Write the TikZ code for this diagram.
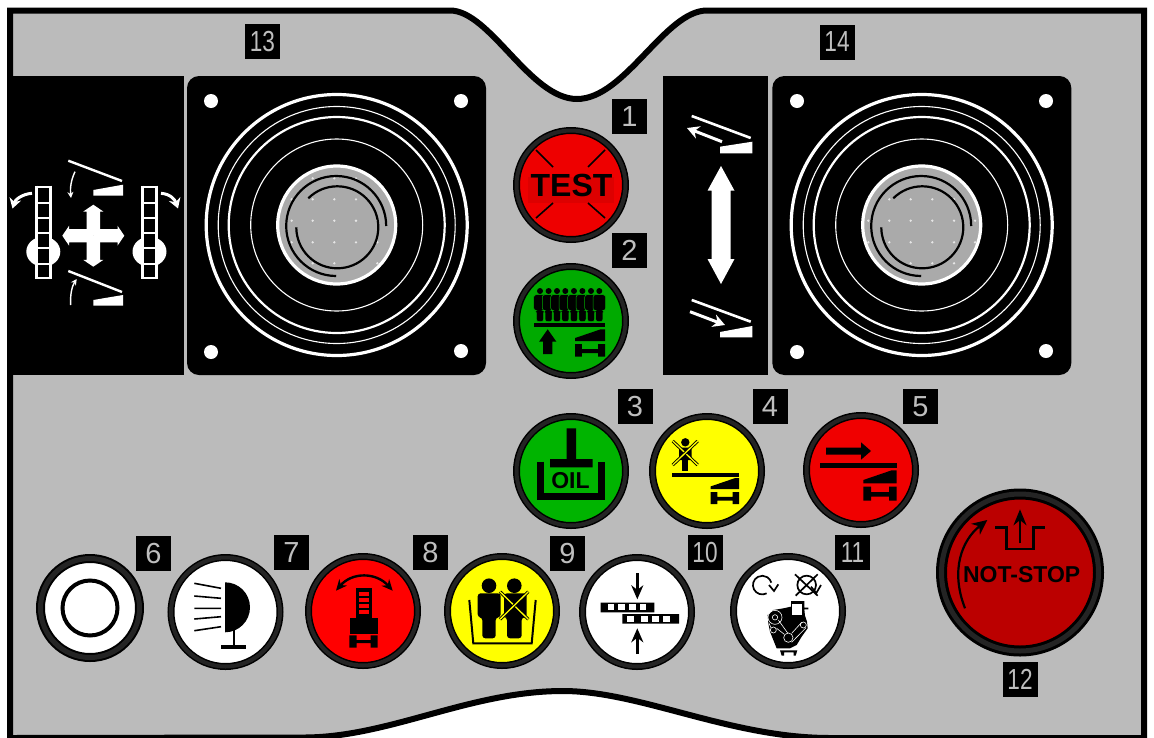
\documentclass[tikz,border=0pt]{standalone}
\usepackage{fontspec}
\setmainfont{Liberation Sans}
\usetikzlibrary{arrows.meta}
\definecolor{panelgray}{RGB}{187,187,187}
\definecolor{ringgray}{RGB}{36,36,36}
\definecolor{tagtext}{RGB}{190,190,190}
\definecolor{discgray}{RGB}{170,170,170}
\definecolor{dotgray}{RGB}{230,230,230}
\definecolor{testred}{RGB}{238,0,0}
\definecolor{testbar}{RGB}{221,0,0}
\definecolor{grnone}{RGB}{0,170,0}
\definecolor{grntwo}{RGB}{0,180,0}
\definecolor{yelbtn}{RGB}{255,255,0}
\definecolor{redfive}{RGB}{240,0,0}
\definecolor{redeight}{RGB}{255,0,0}
\definecolor{stopred}{RGB}{187,0,0}
\newcommand{\twodig}[1]{\scalebox{.78}[1]{#1}}
\tikzset{
  %% panel outline
  plate/.style={draw=black,fill=panelgray,line width=6pt},
  %% black mounting fields
  field/.style={rectangle,fill=black,inner sep=0pt,outer sep=0pt,
    minimum height=299pt},
  %% round push button
  btn/.style={circle,draw=black,fill=#1,line width=1.5pt,
    double=ringgray,double distance=4pt,inner sep=0pt,outer sep=0pt,
    minimum size=109pt},
  %% number tag
  tagbox/.style={rectangle,fill=black,text=tagtext,inner sep=0pt,
    minimum size=35pt,font=\fontsize{29}{29}\selectfont},
  %% bold caption on a button
  caption/.style={inner sep=0pt,text=black,
    font=\fontsize{#1}{#1}\selectfont\bfseries},
  %% arrows
  warr/.style={-{Stealth[length=10pt,width=12pt]},white,line width=3pt},
  thinw/.style={-{Stealth[length=6pt,width=6pt]},white,line width=1.4pt},
  barr/.style={-{Stealth[length=14pt,width=12pt]},black,line width=3pt},
  %% crossed out mark
  xline/.style={black,line width=.9pt,double=yelbtn,double distance=1.3pt},
  %% wedge and cart symbol
  pics/chassis/.style={code={
    \fill[black] (0,-20.7) -- (28.4,-30.4) -- (33.4,-30.4) -- (33.4,-17.4) -- (0,-17.4) -- cycle;
    \fill[black] (0,-14) rectangle (7.7,0) (25.7,-14) rectangle (33.4,0)
      (7.7,-8.5) rectangle (25.7,-4);
  }},
  %% white ladder on black
  pics/ladder/.style={code={
    \draw[white,line width=2.8pt] (1.4,0) -- (1.4,93.6) (15.2,0) -- (15.2,93.6);
    \foreach \ry in {1.5,16.8,32.1,47.4,62.7,78,92.5}
      \draw[white,line width=2pt] (1.4,\ry) -- (15.2,\ry);
  }},
  %% joystick rings, #1 is the list of dots
  pics/joystick/.style={code={
    \draw[white,line width=3.2pt] (0,0) circle (130.5);
    \draw[white,line width=1.1pt] (0,0) circle (118.5);
    \draw[white,line width=2.2pt] (0,0) circle (108);
    \draw[white,line width=1.1pt] (0,0) circle (86);
    \draw[white,line width=3.2pt,fill=discgray] (0,0) circle (59);
    \foreach \dx/\dy in {#1}
      \fill[dotgray] (\dx,\dy) circle (1.3);
    \draw[black,line width=2.2pt] (49.5,1) arc (0:-270:50);
    \draw[black,line width=2.2pt] (-28.4,-26.7) arc (225:540:41);
  }},
}
\begin{document}
\begin{tikzpicture}[x=1pt,y=-1pt]
  \useasboundingbox (0,0) rectangle (1154,737);
  \fill[white] (0,0) rectangle (1154,737);

  \draw[plate] (10,745) -- (10,10.5) -- (450,10.5)
    .. controls (490,10.5) and (530,99) .. (577,99)
    .. controls (625,99) and (665,10.5) .. (707,10.5)
    -- (1144,10.5) -- (1144,738) -- (830,738)
    .. controls (730,738) and (640,691) .. (563,691)
    .. controls (470,691) and (390,737) .. (305,737.5)
    -- (10,738);

  %% left and right joystick fields
  \node[field,minimum width=171pt] (fieldleft) at (98.5,225.5) {};
  \node[field,minimum width=299pt,rounded corners=12pt] (stickleft) at (336.5,225.5) {};
  \node[field,minimum width=105pt] (fieldmid) at (715.5,225.5) {};
  \node[field,minimum width=299pt,rounded corners=12pt] (stickright) at (921.8,225.5) {};
  \foreach \hx/\hy in {211/101,461/101,211/352,461/351,797/101,1046/101,797/352,1046/351}
    \fill[white] (\hx,\hy) circle (7);
  \pic at (336.7,225) {joystick={-24/-46.7,-2.4/-46.7,19.3/-46.7,
    -45/-25.7,-24/-25.7,-2.4/-25.7,19.3/-25.7,
    -45/-4.3,-24/-4.3,-2.4/-4.3,19.3/-4.3,40.6/-4.3,
    -45/17.3,-24/17.3,-2.4/17.3,19.3/17.3,40.6/17.3,
    -24/38.3,-2.4/38.3,40.6/38.3}};
  \pic at (921.7,225) {joystick={-32.4/-25.7,-11/-25.7,10.6/-25.7,32.3/-25.7,
    -53.4/-4.3,-32.4/-4.3,-11/-4.3,10.6/-4.3,32.3/-4.3,53.3/-4.3,
    -53.4/17.3,-32.4/17.3,-11/17.3,10.6/17.3,32.3/17.3,53.3/17.3,
    -11/38.3,10.6/38.3,32.3/38.3}};

  %% left field symbols
  \fill[white] (43.3,251.7) ellipse [x radius=17,y radius=15];
  \fill[white] (149.5,251.7) ellipse [x radius=17,y radius=15];
  \fill[black] (35,186) rectangle (51.6,279) (141,186) rectangle (157.6,279);
  \pic at (35,185.7) {ladder};
  \pic at (141,185.7) {ladder};
  \draw[warr] (32,193.3) .. controls (22,194) and (15,200) .. (12.5,208.5);
  \draw[warr] (161,193.3) .. controls (171,194) and (175,200) .. (178,208.5);
  \foreach \ang in {0,90,180,270}
    \fill[white,rotate around={\ang:(93.3,235.7)}] (93.3,229) -- (117.5,229) -- (117.5,225.7)
      -- (124.3,235.7) -- (117.5,245.7) -- (117.5,242.4) -- (93.3,242.4) -- cycle;
  \draw[white,line width=2.4pt] (68.3,160.7) -- (122,181) (68.3,271) -- (122,292);
  \fill[white] (93.3,190) -- (93.3,195.7) -- (123,195.7) -- (123,184.7) -- cycle;
  \fill[white] (93.3,300) -- (93.3,305.7) -- (123,305.7) -- (123,295) -- cycle;
  \draw[thinw] (75,171.7) .. controls (71,180) and (70,188) .. (71,198);
  \draw[thinw] (70.7,305) .. controls (70,295) and (72,286) .. (76.7,279);

  %% middle field symbols
  \draw[white,line width=2.6pt] (691.7,116) -- (750.7,138) (691.7,300) -- (750.7,321.7);
  \fill[white] (720,146.7) -- (720,153.3) -- (752.3,153.3) -- (752.3,141.7) -- cycle;
  \fill[white] (720,332) -- (720,337.3) -- (752.3,337.3) -- (752.3,326) -- cycle;
  \draw[-{Stealth[length=12pt,width=13pt]},white,line width=3pt] (722,141.7) -- (687,128);
  \draw[-{Stealth[length=12pt,width=13pt]},white,line width=3pt] (690,311.7) -- (725,325);
  \fill[white] (721,166) -- (734.5,190.7) -- (730.5,190.7) -- (730.5,259) -- (734.5,259)
    -- (721,284) -- (707.5,259) -- (711.5,259) -- (711.5,190.7) -- (707.5,190.7) -- cycle;

  %% buttons
  \node[btn=testred] (btntest) at (571,185) {};
  \node[btn=grnone] (btnbelt) at (571,321) {};
  \node[btn=grntwo] (btnoil) at (571,471) {};
  \node[btn=yelbtn] (btnwalk) at (707,471) {};
  \node[btn=redfive] (btnfeed) at (861,470) {};
  \node[btn=white,line width=2pt,double distance=5pt,minimum size=99pt] (btnblank) at (90,608) {};
  \node[btn=white] (btnlamp) at (225.5,612) {};
  \node[btn=redeight] (btnmast) at (363,611) {};
  \node[btn=yelbtn] (btnduo) at (502,611) {};
  \node[btn=white] (btnclamp) at (637,612) {};
  \node[btn=white] (btnengine) at (788,611) {};
  \node[btn=stopred,line width=3pt,double distance=5pt,minimum size=157pt] (btnstop) at (1020,572.5) {};

  %% number tags
  \node[tagbox] (tagone) at (629.5,116.5) {1};
  \node[tagbox] (tagtwo) at (629.5,250.5) {2};
  \node[tagbox] (tagthree) at (635,406.5) {3};
  \node[tagbox] (tagfour) at (770,406.5) {4};
  \node[tagbox] (tagfive) at (920.5,406.5) {5};
  \node[tagbox] (tagsix) at (153.5,553.5) {6};
  \node[tagbox] (tagseven) at (291.5,552.5) {7};
  \node[tagbox] (tageight) at (430.5,552.5) {8};
  \node[tagbox] (tagnine) at (567.5,553.5) {9};
  \node[tagbox] (tagten) at (705,552.5) {\twodig{10}};
  \node[tagbox] (tageleven) at (852.5,552.5) {\twodig{11}};
  \node[tagbox] (tagtwelve) at (1020,679.5) {\twodig{12}};
  \node[tagbox] (tagthirteen) at (262.5,41.5) {\twodig{13}};
  \node[tagbox] (tagfourteen) at (837,42) {\twodig{14}};

  %% test
  \fill[testbar] (528,177) rectangle (614,203);
  \draw[black,line width=1.6pt] (536,150) -- (553,167) (605,150) -- (588,167)
    (536,218) -- (553,203) (605,218) -- (588,203);
  \node[caption=32] (txttest) at (571.5,185) {TEST};

  %% belt
  \foreach \px in {540,548.6,557,565.3,574,582.4,591,599.3} {
    \fill[black] (\px,291) circle (3);
    \draw[draw=grnone,fill=black,line width=.5pt,rounded corners=2.5pt]
      (\px-6.3,310.5) -- (\px-6.3,294.7) -- (\px+6.3,294.7) -- (\px+6.3,310.5)
      -- (\px+3.6,310.5) -- (\px+3.6,321.7) -- (\px-3.6,321.7) -- (\px-3.6,310.5) -- cycle;
  }
  \fill[black] (534,323.3) rectangle (605,327.3);
  \fill[black] (547.7,329.3) -- (556.4,341.7) -- (552.4,341.7) -- (552.4,354)
    -- (543,354) -- (543,341.7) -- (539,341.7) -- cycle;
  \pic[scale=.9] at (575,356.7) {chassis};

  %% oil
  \fill[black] (566.7,428.3) rectangle (576,459) (550,459) rectangle (592.7,467.3);
  \draw[black,line width=7.5pt] (540.5,461.7) -- (540.5,496.5) -- (601.7,496.5) -- (601.7,461.7);
  \node[caption=23] (txtoil) at (570.5,481) {OIL};

  %% walkway
  \fill[black] (685.3,442.3) circle (4.2);
  \fill[black,rounded corners=1pt] (679,447.7) rectangle (691.7,460);
  \fill[black] (682.3,458) rectangle (688.3,470.7);
  \draw[xline] (672.7,441) -- (697.7,465);
  \draw[xline] (697.7,441) -- (672.7,465);
  \fill[black] (672,473) rectangle (739,477.3);
  \pic[scale=.85] at (710.7,504) {chassis};

  %% feed
  \fill[black] (826,447.5) -- (861,447.5) -- (861,442.3) -- (871,451) -- (861,459.7)
    -- (861,454.5) -- (826,454.5) -- cycle;
  \fill[black] (820,462.7) rectangle (896.7,467.7);
  \pic at (863.3,500.7) {chassis};

  %% blank
  \draw[black,line width=4pt] (btnblank.center) circle (27.5);

  %% lamp
  \fill[black] (225,582.3) arc (-90:90:25) -- cycle;
  \draw[black,line width=1.6pt] (194.3,583.3) -- (221,588.3) (194.3,596) -- (221,598.3)
    (194.3,608.3) -- (221,608.3) (194.3,619) -- (221,616.7) (194.3,630.7) -- (221,626.7);
  \draw[black,line width=2pt] (233.5,628) -- (233.5,646);
  \fill[black] (221.3,645.3) rectangle (246,649);

  %% mast
  \draw[{Stealth[length=11pt,width=10pt]}-{Stealth[length=11pt,width=10pt]},black,line width=2.4pt]
    (336,590.7) .. controls (352,572) and (376,572) .. (392.7,590.7);
  \fill[black] (355.7,588.3) rectangle (371.7,618.3);
  \foreach \ry in {592,598,604,610}
    \fill[redeight] (358.7,\ry) rectangle (368.7,\ry+3.6);
  \fill[black] (350,618.3) rectangle (378,634);
  \fill[black] (349.3,635.3) rectangle (356.5,647.7) (370.5,635.3) rectangle (377.7,647.7)
    (356.5,640) rectangle (370.5,643);

  %% two persons
  \fill[black] (489,585.7) circle (7.3) (514.3,585.7) circle (7.3);
  \fill[black,rounded corners=3pt] (477.7,617.3) -- (477.7,593.3) -- (500.7,593.3) -- (500.7,617.3)
    -- (495.7,617.3) -- (495.7,638.3) -- (482.3,638.3) -- (482.3,617.3) -- cycle;
  \fill[black,rounded corners=3pt] (504,617.3) -- (504,593.3) -- (526.7,593.3) -- (526.7,617.3)
    -- (521.7,617.3) -- (521.7,638.3) -- (507,638.3) -- (507,617.3) -- cycle;
  \draw[black,line width=2pt] (469.3,600) -- (473.3,643.3) -- (531.7,643.3) -- (535.7,600);
  \draw[xline] (500,591.7) -- (528.3,619.3);
  \draw[xline] (528.3,591.7) -- (500,619.3);

  %% clamp
  \draw[barr] (637.3,573.3) -- (637.3,599.3);
  \draw[barr] (637.3,654) -- (637.3,628.3);
  \fill[black] (600.7,602.7) rectangle (654.3,612.3) (622.3,614) rectangle (679,623.7);
  \foreach \cx in {607.7,618.3,629,639.7}
    \fill[white] (\cx,604.3) rectangle (\cx+6.6,610.3);
  \foreach \cx in {627.3,640.7,651.7,662.7}
    \fill[white] (\cx,615.7) rectangle (\cx+7,621.7);

  %% engine
  \begin{scope}[shift={(745,565)},x=.3333pt,y=-.3333pt]
    \draw[black,line width=1.7pt] (65,85) arc (62:345:28);
    \draw[black,line width=1.7pt] (72,60) -- (87,78) -- (100,58);
    \draw[black,line width=1.7pt] (185,60) circle (28);
    \draw[black,line width=1.7pt] (150,28) -- (218,92) (218,28) -- (152,92);
    \draw[black,line width=1.7pt] (198,65) -- (214,84) -- (228,60);
    \fill[black] (70,175) -- (68,150) -- (85,135) -- (115,130) -- (138,125) -- (138,108) -- (178,108)
      -- (178,128) -- (190,128) -- (190,133) -- (178,133) -- (180,152) -- (186,170) -- (188,190)
      -- (170,215) -- (155,240) -- (135,250) -- (95,250) -- (85,225) -- (75,200) -- cycle;
    \fill[white] (142,118) rectangle (172,150);
    \draw[white,line width=.6pt] (90,157) circle (21) (90,157) circle (8) (85,195) circle (9)
      (130,218) circle (14) (175,180) circle (9);
    \draw[white,line width=.6pt] (100,165) -- (128,204) (140,205) -- (170,172) (140,232) -- (183,188)
      (72,175) -- (78,188) (95,190) -- (118,208);
    \fill[black] (105,256) -- (157,256) -- (152,272) -- (146,272) -- (146,262) -- (117,262)
      -- (117,272) -- (110,272) -- cycle;
  \end{scope}

  %% not stop
  \draw[-{Stealth[length=15pt,width=14pt]},black,line width=2.2pt]
    (965,608.3) .. controls (950,570) and (962,540) .. (987.3,520);
  \draw[black,line width=2.5pt] (995.3,527.7) -- (1006.7,527.7) -- (1006.7,549) -- (1033.3,549)
    -- (1033.3,527.7) -- (1045,527.7);
  \draw[-{Stealth[length=16pt,width=13pt]},black,line width=2pt] (1020,543.3) -- (1020,509.3);
  \node[caption=23] (txtstop) at (1021.7,575) {NOT-STOP};
\end{tikzpicture}
\end{document}
